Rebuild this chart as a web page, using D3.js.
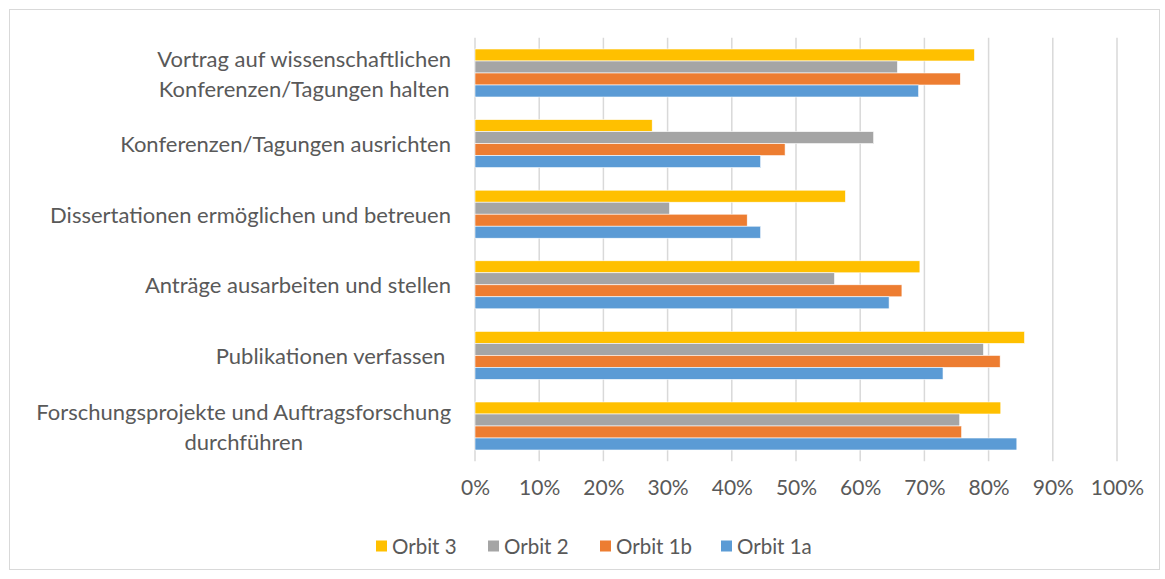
<!DOCTYPE html>
<html>
<head>
<meta charset="utf-8">
<script src="https://cdn.jsdelivr.net/npm/d3@7"></script>
<style>
  body { margin: 0; background: #fff; }
  svg { display: block; font-family: Lato, "Open Sans", sans-serif; }
</style>
</head>
<body>
<div id="chart"></div>
<script>
// categories top to bottom, lines split for the label
var categories = [
  ["Vortrag auf wissenschaftlichen", "Konferenzen/Tagungen halten"],
  ["Konferenzen/Tagungen ausrichten"],
  ["Dissertationen ermöglichen und betreuen"],
  ["Anträge ausarbeiten und stellen"],
  ["Publikationen verfassen\u00A0"],
  ["Forschungsprojekte und Auftragsforschung", "durchführen"]
]
var series = ["Orbit 3", "Orbit 2", "Orbit 1b", "Orbit 1a"]
var colours = ["#FFC000", "#A5A5A5", "#ED7D31", "#5B9BD5"]

// values per series, same order as categories
var orbit3  = [0.778, 0.276, 0.577, 0.693, 0.856, 0.819]
var orbit2  = [0.658, 0.621, 0.303, 0.560, 0.792, 0.755]
var orbit1b = [0.756, 0.483, 0.424, 0.665, 0.818, 0.758]
var orbit1a = [0.691, 0.445, 0.445, 0.645, 0.729, 0.844]
var values = [orbit3, orbit2, orbit1b, orbit1a]

var ticks = [0, 0.1, 0.2, 0.3, 0.4, 0.5, 0.6, 0.7, 0.8, 0.9, 1]

var w = 1165, h = 579
var svg = d3.select("#chart").append("svg").attr("width", w).attr("height", h)

// chart border
svg.append("rect")
  .attr("x", 9.5).attr("y", 9.5).attr("width", 1150).attr("height", 560)
  .attr("fill", "#fff").attr("stroke", "#D9D9D9").attr("stroke-width", 1)

var x = d3.scaleLinear().domain([0, 1]).range([475, 1117])
var keys = categories.map(function(c, i) { return i })
var y = d3.scaleBand().domain(keys).range([37.7, 461.3]).paddingInner(0.32).paddingOuter(0.16)
var ys = d3.scaleBand().domain(series).range([0, y.bandwidth()])

// gridlines
svg.append("g").selectAll("line")
  .data(ticks).enter().append("line")
  .attr("x1", function(d) { return x(d) }).attr("x2", function(d) { return x(d) })
  .attr("y1", 37.7).attr("y2", 461.3)
  .attr("stroke", "#D9D9D9").attr("stroke-width", 1.5)

// bars
var rows = []
categories.forEach(function(c, i) {
  series.forEach(function(s, j) {
    rows.push({ cat: i, s: s, c: colours[j], v: values[j][i] })
  })
})
svg.append("g").selectAll("rect")
  .data(rows).enter().append("rect")
  .attr("x", x(0))
  .attr("y", function(d) { return y(d.cat) + ys(d.s) })
  .attr("width", function(d) { return x(d.v) - x(0) })
  .attr("height", ys.bandwidth())
  .attr("fill", function(d) { return d.c })
  .attr("stroke", "#fff").attr("stroke-width", 0.6)

// x axis labels
var xAxis = d3.axisBottom(x).tickValues(ticks).tickFormat(d3.format(".0%")).tickSize(0).tickPadding(0)
var gx = svg.append("g").attr("transform", "translate(0,480)").call(xAxis)
gx.select(".domain").remove()
gx.selectAll("text").attr("fill", "#595959").style("font-size", "21px").style("font-family", "Lato, sans-serif")

// category labels
var fs = 22, lh = 30, right = 451
var lab = svg.append("g").selectAll("g").data(categories).enter().append("g")
lab.each(function(lines, i) {
  var g = d3.select(this)
  var cy = y(i) + y.bandwidth() / 2
  var t = g.append("text")
    .attr("fill", "#595959").style("font-size", fs + "px")
  lines.forEach(function(l, k) {
    t.append("tspan").text(l)
  })
  // measure widest line, centre lines in a right aligned block
  var widths = []
  t.selectAll("tspan").each(function() { widths.push(this.getComputedTextLength()) })
  var maxW = d3.max(widths)
  var y0 = cy - (lines.length - 1) * lh / 2
  t.attr("text-anchor", lines.length > 1 ? "middle" : "end")
  t.selectAll("tspan")
    .attr("x", lines.length > 1 ? right - maxW / 2 : right)
    .attr("y", function(d, k) { return y0 + k * lh })
    .attr("dominant-baseline", "central")
})

// legend
var legendX = [376, 488, 600, 721]
var lg = svg.append("g").selectAll("g").data(series).enter().append("g")
  .attr("transform", function(d, i) { return "translate(" + legendX[i] + ",546)" })
lg.append("rect").attr("x", 0).attr("y", -5.5).attr("width", 11).attr("height", 11)
  .attr("fill", function(d, i) { return colours[i] })
lg.append("text").attr("x", 16).attr("dominant-baseline", "central")
  .attr("fill", "#595959").style("font-size", "20.5px").text(function(d) { return d })
</script>
</body>
</html>
